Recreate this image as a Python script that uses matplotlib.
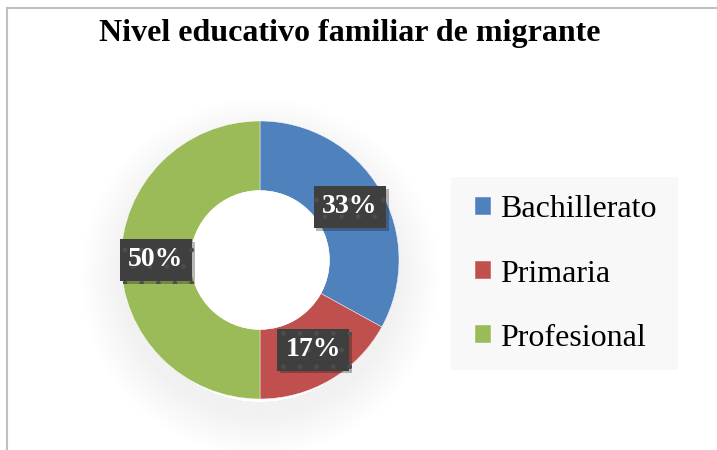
import matplotlib
matplotlib.use("Agg")
import matplotlib.pyplot as plt
from matplotlib.patches import Rectangle, Wedge
from matplotlib.lines import Line2D
import matplotlib.patheffects as pe

categories = ["Bachillerato", "Primaria", "Profesional"]
values = [33, 17, 50]
colors = ["#4F81BD", "#C0504D", "#9BBB59"]
title = "Nivel educativo familiar de migrante"

W, H = 717, 450
fig = plt.figure(figsize=(W / 100, H / 100), dpi=100)
fig.patch.set_facecolor("white")

# border lines (top and left)
fig.add_artist(Line2D([7 / W, 1], [1 - 8 / H, 1 - 8 / H], color="#BFBFBF", lw=1.5))
fig.add_artist(Line2D([7 / W, 7 / W], [0, 1 - 8 / H], color="#BFBFBF", lw=1.5))

cx, cy, R = 260, 260, 139
S = 1.4
ax = fig.add_axes([(cx - R * S) / W, (H - cy - R * S) / H, 2 * R * S / W, 2 * R * S / H])
ax.axis("off")

# soft shadow (outer only, shifted down)
for i in range(14):
    r = 0.98 + 0.022 * (i + 1)
    ax.add_patch(Wedge((0.0, -0.12), r, 0, 360, width=r - 0.9, color="black",
                       alpha=0.005, lw=0, zorder=0))

wedges, texts, autotexts = ax.pie(
    values, colors=colors, startangle=90, counterclock=False, radius=1.0,
    wedgeprops=dict(width=0.5, edgecolor="white", linewidth=0.3),
    autopct=lambda p: f"{p:.0f}%", pctdistance=0.75,
    textprops=dict(color="white", fontsize=20, fontweight="bold", family="Liberation Serif"),
)
ax.add_patch(Wedge((0, 0), 0.5, 0, 360, color="white", lw=0, zorder=1))
ax.set_xlim(-S, S)
ax.set_ylim(-S, S)
for t in autotexts:
    t.set_bbox(dict(boxstyle="square,pad=0.3", facecolor="#3F3F3F", edgecolor="#4D4D4D",
                    hatch=".", linewidth=0))
    t.get_bbox_patch().set_path_effects([pe.SimplePatchShadow(offset=(2, -2), alpha=0.3), pe.Normal()])

# title
fig.text(350 / W, 1 - 33 / H, title, ha="center", va="center", fontsize=23,
         fontweight="bold", family="Liberation Serif")

# legend box
fig.add_artist(Rectangle((451 / W, 1 - 370 / H), (678 - 451) / W, (370 - 177) / H,
                         transform=fig.transFigure, facecolor="#F8F8F8", edgecolor="none"))
leg = fig.legend(wedges, categories, loc="center left", bbox_to_anchor=(446 / W, 1 - 274 / H),
                 frameon=False, prop=dict(family="Liberation Serif", size=23),
                 handlelength=0.5, handleheight=0.5, handletextpad=0.3, labelspacing=1.1)

fig.savefig("out.png", dpi=100)
